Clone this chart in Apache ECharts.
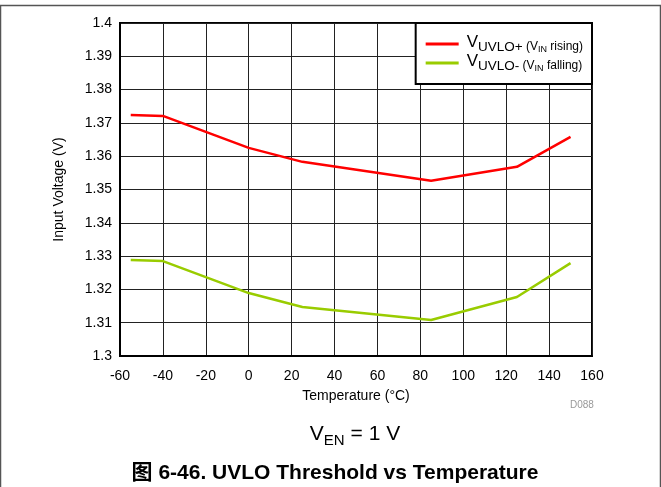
<!DOCTYPE html>
<html><head><meta charset="utf-8">
<script src="https://cdn.jsdelivr.net/npm/echarts@6/dist/echarts.min.js"></script>
<style>html,body{margin:0;padding:0;background:#fff}#c{width:661px;height:487px}</style>
</head><body><div id="c"></div>
<script>
const temps = [-55, -40, 0, 25, 85, 125, 150];
const uvloRising = [1.3724, 1.3721, 1.3625, 1.3583, 1.3526, 1.3568, 1.3658];
const uvloFalling = [1.3288, 1.3285, 1.3189, 1.3147, 1.3108, 1.3177, 1.3279];
const xTicks = {min: -60, max: 160, interval: 20};
const yTicks = {min: 1.3, max: 1.4, interval: 0.01};

const F = 'Liberation Sans, Arial, Noto Sans CJK SC, sans-serif';
const chart = echarts.init(document.getElementById('c'));
const pair = (xs, ys) => xs.map((x, i) => [x, ys[i]]);
chart.setOption({
  animation: false,
  grid: {left: 120, right: 69, top: 23, bottom: 131, show: true, borderColor: '#000', borderWidth: 2},
  xAxis: {
    type: 'value', min: xTicks.min, max: xTicks.max, interval: xTicks.interval,
    name: 'Temperature (°C)', nameLocation: 'middle', nameGap: 33,
    nameTextStyle: {fontFamily: F, fontSize: 14, color: '#000'},
    axisLine: {show: true, onZero: false, lineStyle: {color: '#000', width: 2}},
    axisTick: {show: false},
    axisLabel: {fontFamily: F, fontSize: 14, color: '#000', margin: 13},
    splitLine: {show: true, lineStyle: {color: '#222', width: 1}}
  },
  yAxis: {
    type: 'value', min: yTicks.min, max: yTicks.max, interval: yTicks.interval,
    name: 'Input Voltage (V)', nameLocation: 'middle', nameGap: 54,
    nameTextStyle: {fontFamily: F, fontSize: 14, color: '#000'},
    axisLine: {show: true, onZero: false, lineStyle: {color: '#000', width: 2}},
    axisTick: {show: false},
    axisLabel: {fontFamily: F, fontSize: 14, color: '#000', margin: 8,
      formatter: v => String(parseFloat(v.toFixed(2)))},
    splitLine: {show: true, lineStyle: {color: '#222', width: 1}}
  },
  legend: {
    orient: 'vertical', right: 69, top: 23, itemGap: -1,
    padding: [11, 9, 11, 10],
    backgroundColor: '#fff', borderColor: '#000', borderWidth: 2,
    icon: 'rect', itemWidth: 33, itemHeight: 3,
    data: ['r', 'f'],
    formatter: n => n === 'r'
      ? '{v|V}{s|UVLO+}{p| (V}{q|IN}{p| rising)}'
      : '{v|V}{s|UVLO-}{p| (V}{q|IN}{p| falling)}',
    textStyle: {
      fontFamily: F, color: '#000',
      rich: {
        v: {fontFamily: F, fontSize: 17, color: '#000', verticalAlign: 'bottom', padding: [0, 0, 3, 3]},
        s: {fontFamily: F, fontSize: 13.5, color: '#000', verticalAlign: 'bottom'},
        p: {fontFamily: F, fontSize: 12, color: '#000', verticalAlign: 'bottom', padding: [0, 0, 1, 0]},
        q: {fontFamily: F, fontSize: 9, color: '#000', verticalAlign: 'bottom'}
      }
    }
  },
  series: [
    {name: 'r', type: 'line', data: pair(temps, uvloRising), symbol: 'none',
     lineStyle: {color: '#ff0000', width: 2.5}, itemStyle: {color: '#ff0000'}},
    {name: 'f', type: 'line', data: pair(temps, uvloFalling), symbol: 'none',
     lineStyle: {color: '#99cc00', width: 2.5}, itemStyle: {color: '#99cc00'}}
  ],
  graphic: [
    {type: 'line', shape: {x1: 0, y1: 5.5, x2: 661, y2: 5.5}, style: {stroke: '#555', lineWidth: 1.5}},
    {type: 'line', shape: {x1: 0.5, y1: 5, x2: 0.5, y2: 487}, style: {stroke: '#555', lineWidth: 1.5}},
    {type: 'line', shape: {x1: 660.5, y1: 5, x2: 660.5, y2: 487}, style: {stroke: '#555', lineWidth: 1.5}},
    {type: 'text', x: 570, y: 400, style: {text: 'D088', font: '10px ' + F, fill: '#999'}},
    {type: 'text', x: 355, y: 424, style: {
      text: '{v|V}{s|EN}{v| = 1 V}', align: 'center', verticalAlign: 'top',
      rich: {v: {fontFamily: F, fontSize: 21, fill: '#000', verticalAlign: 'bottom', padding: [0, 0, 3, 0]},
             s: {fontFamily: F, fontSize: 15, fill: '#000', verticalAlign: 'bottom'}}}},
    {type: 'text', x: 335, y: 463, style: {
      text: '图 6-46. UVLO Threshold vs Temperature', align: 'center', verticalAlign: 'top',
      font: 'bold 21px ' + F, fill: '#000'}}
  ]
});
</script></body></html>
